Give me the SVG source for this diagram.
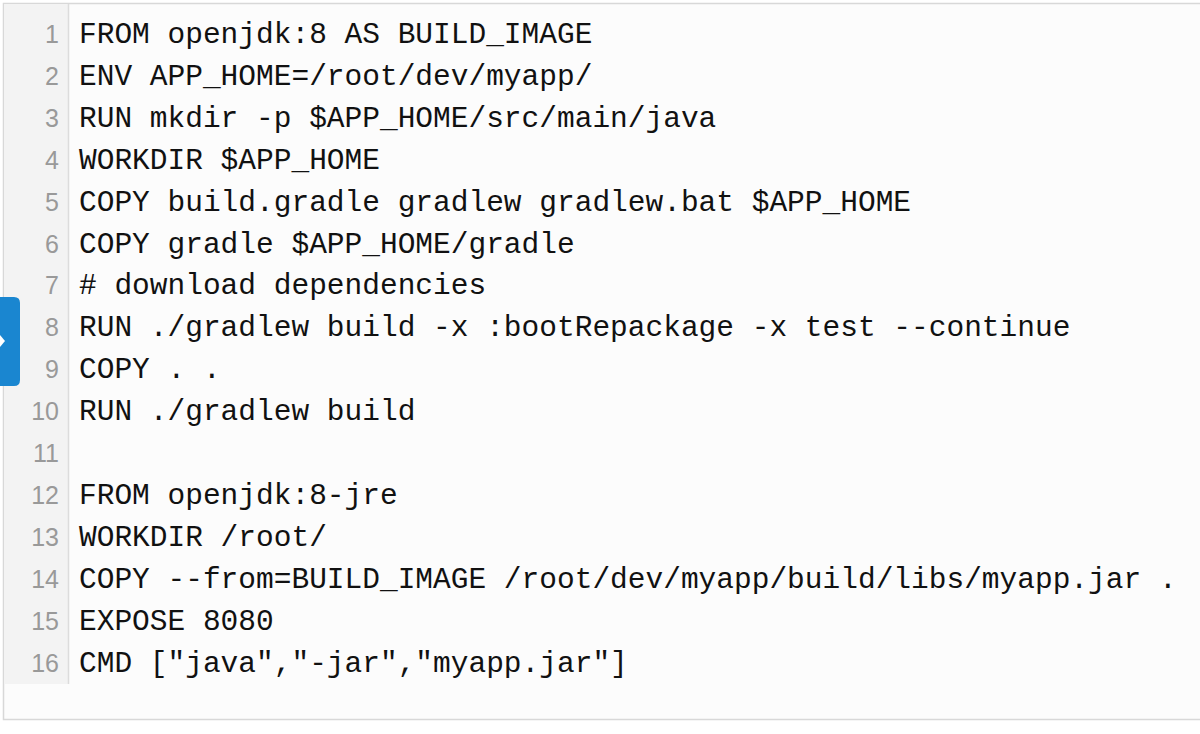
<svg xmlns="http://www.w3.org/2000/svg" width="1200" height="734" viewBox="0 0 1200 734">
<style>
.c{font-family:"Liberation Mono","Courier New",monospace;font-size:29.5px;fill:#111;white-space:pre}
.n{font-family:"Liberation Sans",Arial,sans-serif;font-size:25px;fill:#999;text-anchor:end}
</style>
<rect width="1200" height="734" fill="#fff"/>
<g id="frame">
<rect x="3.5" y="3.5" width="1200" height="716" fill="#fcfcfc" stroke="#d8d8d8" stroke-width="1.5"/>
<rect x="4" y="4" width="64" height="680" fill="#f3f3f3"/>
<line x1="68.5" y1="4" x2="68.5" y2="684" stroke="#dcdcdc" stroke-width="1.5"/>
</g>
<g id="tab">
<path d="M0 297 H14 Q20 297 20 303 V380 Q20 386 14 386 H0 Z" fill="#1a86d0"/>
<path d="M0 335 L5 341 L0 347 Z" fill="#fff"/>
</g>
<g id="gutter">
<text class="n" x="59" y="43">1</text>
<text class="n" x="59" y="85">2</text>
<text class="n" x="59" y="127">3</text>
<text class="n" x="59" y="169">4</text>
<text class="n" x="59" y="211">5</text>
<text class="n" x="59" y="253">6</text>
<text class="n" x="59" y="294">7</text>
<text class="n" x="59" y="336">8</text>
<text class="n" x="59" y="378">9</text>
<text class="n" x="59" y="420">10</text>
<text class="n" x="59" y="462">11</text>
<text class="n" x="59" y="504">12</text>
<text class="n" x="59" y="546">13</text>
<text class="n" x="59" y="588">14</text>
<text class="n" x="59" y="630">15</text>
<text class="n" x="59" y="672">16</text>
</g>
<g id="code">
<text class="c" x="79" y="43">FROM openjdk:8 AS BUILD_IMAGE</text>
<text class="c" x="79" y="85">ENV APP_HOME=/root/dev/myapp/</text>
<text class="c" x="79" y="127">RUN mkdir -p $APP_HOME/src/main/java</text>
<text class="c" x="79" y="169">WORKDIR $APP_HOME</text>
<text class="c" x="79" y="211">COPY build.gradle gradlew gradlew.bat $APP_HOME</text>
<text class="c" x="79" y="253">COPY gradle $APP_HOME/gradle</text>
<text class="c" x="79" y="294"># download dependencies</text>
<text class="c" x="79" y="336">RUN ./gradlew build -x :bootRepackage -x test --continue</text>
<text class="c" x="79" y="378">COPY . .</text>
<text class="c" x="79" y="420">RUN ./gradlew build</text>
<text class="c" x="79" y="504">FROM openjdk:8-jre</text>
<text class="c" x="79" y="546">WORKDIR /root/</text>
<text class="c" x="79" y="588">COPY --from=BUILD_IMAGE /root/dev/myapp/build/libs/myapp.jar .</text>
<text class="c" x="79" y="630">EXPOSE 8080</text>
<text class="c" x="79" y="672">CMD ["java","-jar","myapp.jar"]</text>
</g>
</svg>
